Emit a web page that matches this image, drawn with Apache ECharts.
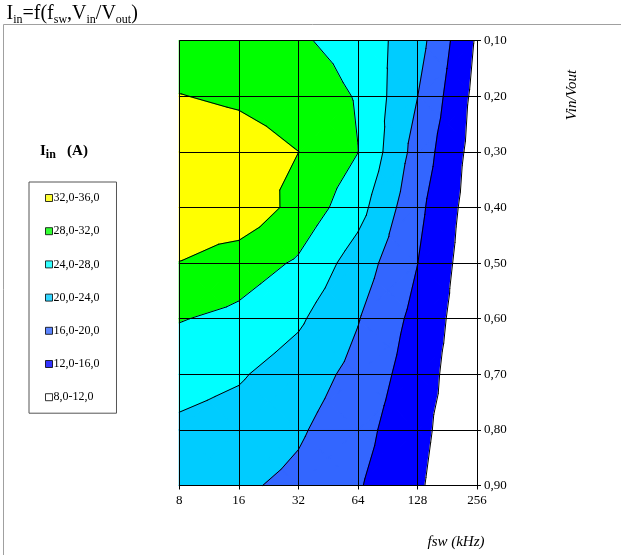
<!DOCTYPE html>
<html><head><meta charset="utf-8">
<script src="https://cdn.jsdelivr.net/npm/echarts@6/dist/echarts.min.js"></script>
<style>html,body{margin:0;padding:0;background:#fff}#c{width:621px;height:555px}</style>
</head><body><div id="c"></div>
<script>
// ---- data ----
const fswLabels = ['8', '16', '32', '64', '128', '256'];          // fsw (kHz)
const ratioLabels = ['0,10', '0,20', '0,30', '0,40', '0,50', '0,60', '0,70', '0,80', '0,90']; // Vin/Vout
// Iin (A) at each fsw, one array per Vin/Vout row
const iin_r010 = [30.0, 30.0, 28.5, 26.5, 21.6, 11.5];
const iin_r020 = [32.1, 31.5, 30.5, 27.7, 20.05, 10.7];
const iin_r030 = [34.0, 33.5, 32.02, 28.05, 18.4, 10.2];
const iin_r040 = [35.0, 34.9, 30.7, 25.5, 17.0, 9.7];
const iin_r050 = [31.9, 30.0, 27.5, 22.1, 16.05, 9.2];
const iin_r060 = [28.2, 27.06, 24.6, 20.2, 14.8, 9.0];
const iin_r070 = [25.5, 24.4, 22.1, 18.8, 13.9, 8.8];
const iin_r080 = [23.3, 22.4, 20.5, 17.5, 13.0, 9.0];
const iin_r090 = [21.5, 20.6, 19.1, 16.35, 12.5, 8.5];
const bandLow = [32, 28, 24, 20, 16, 12, 8];
const bandHigh = [36, 32, 28, 24, 20, 16, 12];
const bandLabels = ['32,0-36,0', '28,0-32,0', '24,0-28,0', '20,0-24,0', '16,0-20,0', '12,0-16,0', '8,0-12,0'];
const bandColors = ['#FFFF00', '#00FF00', '#00FFFF', '#00CCFF', '#3366FF', '#0000FF', '#FFFFFF'];
const contourLevels = [12, 16, 20, 24, 28, 32];

const gridValues = [iin_r010, iin_r020, iin_r030, iin_r040, iin_r050, iin_r060, iin_r070, iin_r080, iin_r090];
const SERIF = 'Liberation Serif';

function nodes(api) {
  const P = [];
  for (let j = 0; j < ratioLabels.length; j++) {
    const row = [];
    for (let i = 0; i < fswLabels.length; i++) {
      const c = api.coord([i, j]);
      row.push({x: c[0], y: c[1], v: gridValues[j][i]});
    }
    P.push(row);
  }
  return P;
}
function triangles(P) {
  const T = [];
  for (let j = 0; j < P.length - 1; j++) {
    for (let i = 0; i < P[0].length - 1; i++) {
      const a = P[j][i], b = P[j][i + 1], c = P[j + 1][i + 1], d = P[j + 1][i];
      const e = {x: (a.x + b.x + c.x + d.x) / 4, y: (a.y + b.y + c.y + d.y) / 4, v: (a.v + b.v + c.v + d.v) / 4};
      T.push([a, b, e], [b, c, e], [c, d, e], [d, a, e]);
    }
  }
  return T;
}
function clip(poly, L, keepAbove) {
  const out = [];
  for (let k = 0; k < poly.length; k++) {
    const A = poly[k], B = poly[(k + 1) % poly.length];
    const ina = keepAbove ? A.v >= L : A.v <= L;
    const inb = keepAbove ? B.v >= L : B.v <= L;
    if (ina) out.push(A);
    if (ina !== inb) {
      const t = (L - A.v) / (B.v - A.v);
      out.push({x: A.x + t * (B.x - A.x), y: A.y + t * (B.y - A.y), v: L});
    }
  }
  return out;
}

function renderContour(params, api) {
  const T = triangles(nodes(api));
  const children = [];
  for (let k = 0; k < bandLow.length; k++) {
    for (const tri of T) {
      let poly = clip(tri, bandLow[k], true);
      if (poly.length >= 3) poly = clip(poly, bandHigh[k], false);
      if (poly.length >= 3) {
        children.push({
          type: 'polygon', z2: 1, shape: {points: poly.map(p => [p.x, p.y])},
          style: {fill: bandColors[k], stroke: bandColors[k], lineWidth: 1.2, lineJoin: 'round'}
        });
      }
    }
  }
  for (const tri of T) {
    for (const L of contourLevels) {
      const pts = [];
      for (let m = 0; m < 3; m++) {
        const A = tri[m], B = tri[(m + 1) % 3];
        if ((A.v - L) * (B.v - L) < 0) {
          const t = (L - A.v) / (B.v - A.v);
          pts.push([A.x + t * (B.x - A.x), A.y + t * (B.y - A.y)]);
        }
      }
      if (pts.length === 2) {
        children.push({type: 'polyline', z2: 50, shape: {points: pts},
          style: {fill: null, stroke: '#000000', lineWidth: 1, lineCap: 'round'}});
      }
    }
  }
  return {type: 'group', children: children};
}

// legend-only series, one per band
const legendSeries = bandLabels.map((name, k) => ({
  type: 'scatter', name: name, data: [], itemStyle: {color: bandColors[k]}
}));

const chart = echarts.init(document.getElementById('c'), null, {renderer: 'canvas'});
chart.setOption({
  animation: false,
  backgroundColor: '#fff',
  title: [
    {
      text: '{n|I}{s|in}{n|=f(f}{s|sw}{n|,V}{s|in}{n|/V}{s|out}{n|)}',
      left: 6.5, top: 2, padding: 0,
      textStyle: {fontWeight: 'normal', rich: {
        n: {fontFamily: SERIF, fontSize: 20, fontWeight: 'normal', lineHeight: 24, color: '#000'},
        s: {fontFamily: SERIF, fontSize: 12, fontWeight: 'normal', lineHeight: 12, padding: [12, 0, 0, 0], color: '#000'}
      }}
    },
    {
      text: '{b|I}{s|in}{b|   (A)}',
      left: 40, top: 142.5, padding: 0,
      textStyle: {rich: {
        b: {fontFamily: SERIF, fontSize: 15, fontWeight: 'bold', lineHeight: 18, color: '#000'},
        s: {fontFamily: SERIF, fontSize: 12, fontWeight: 'bold', lineHeight: 12, padding: [7, 0, 0, 0], color: '#000'}
      }}
    }
  ],
  legend: {
    orient: 'vertical', left: 29, top: 182,
    padding: [9, 17, 9, 16],
    itemWidth: 7, itemHeight: 7, itemGap: 19.2,
    borderColor: '#555', borderWidth: 1, backgroundColor: '#fff',
    icon: 'rect', selectedMode: false,
    itemStyle: {borderColor: '#000', borderWidth: 1},
    textStyle: {fontFamily: SERIF, fontSize: 12, color: '#000', lineHeight: 14, padding: [0, 0, 0, -4]},
    data: bandLabels
  },
  grid: {left: 179.3, top: 40.7, right: 144, bottom: 69.5, containLabel: false},
  xAxis: {
    type: 'category', data: fswLabels, boundaryGap: false, position: 'bottom', z: 10,
    axisLine: {show: true, lineStyle: {color: '#000', width: 1}},
    axisTick: {show: true, length: 4, lineStyle: {color: '#000'}},
    axisLabel: {interval: 0, fontFamily: SERIF, fontSize: 13, color: '#000', margin: 9},
    splitLine: {show: true, lineStyle: {color: '#000', width: 1}}
  },
  yAxis: {
    type: 'category', data: ratioLabels, boundaryGap: false, inverse: true, position: 'right', z: 10,
    axisLine: {show: true, lineStyle: {color: '#000', width: 1}},
    axisTick: {show: true, length: 4, lineStyle: {color: '#000'}},
    axisLabel: {interval: 0, fontFamily: SERIF, fontSize: 13, color: '#000', margin: 7},
    splitLine: {show: true, lineStyle: {color: '#000', width: 1}}
  },
  graphic: [
    {type: 'polyline', shape: {points: [[3.5, 555], [3.5, 24.5], [621, 24.5]]}, style: {stroke: '#a0a0a0', lineWidth: 1, fill: null}, silent: true},
    {type: 'text', x: 571.7, y: 95, rotation: Math.PI / 2,
      style: {text: 'Vin/Vout', font: 'italic 15px "Liberation Serif"', fill: '#000', textAlign: 'center', textVerticalAlign: 'middle'}},
    {type: 'text', x: 456, y: 541.7,
      style: {text: 'fsw (kHz)', font: 'italic 15px "Liberation Serif"', fill: '#000', textAlign: 'center', textVerticalAlign: 'middle'}}
  ],
  series: legendSeries.concat([{
    type: 'custom', name: 'Iin', coordinateSystem: 'cartesian2d',
    data: [[0, 0]], silent: true, z: 2, renderItem: renderContour
  }])
});
</script></body></html>
